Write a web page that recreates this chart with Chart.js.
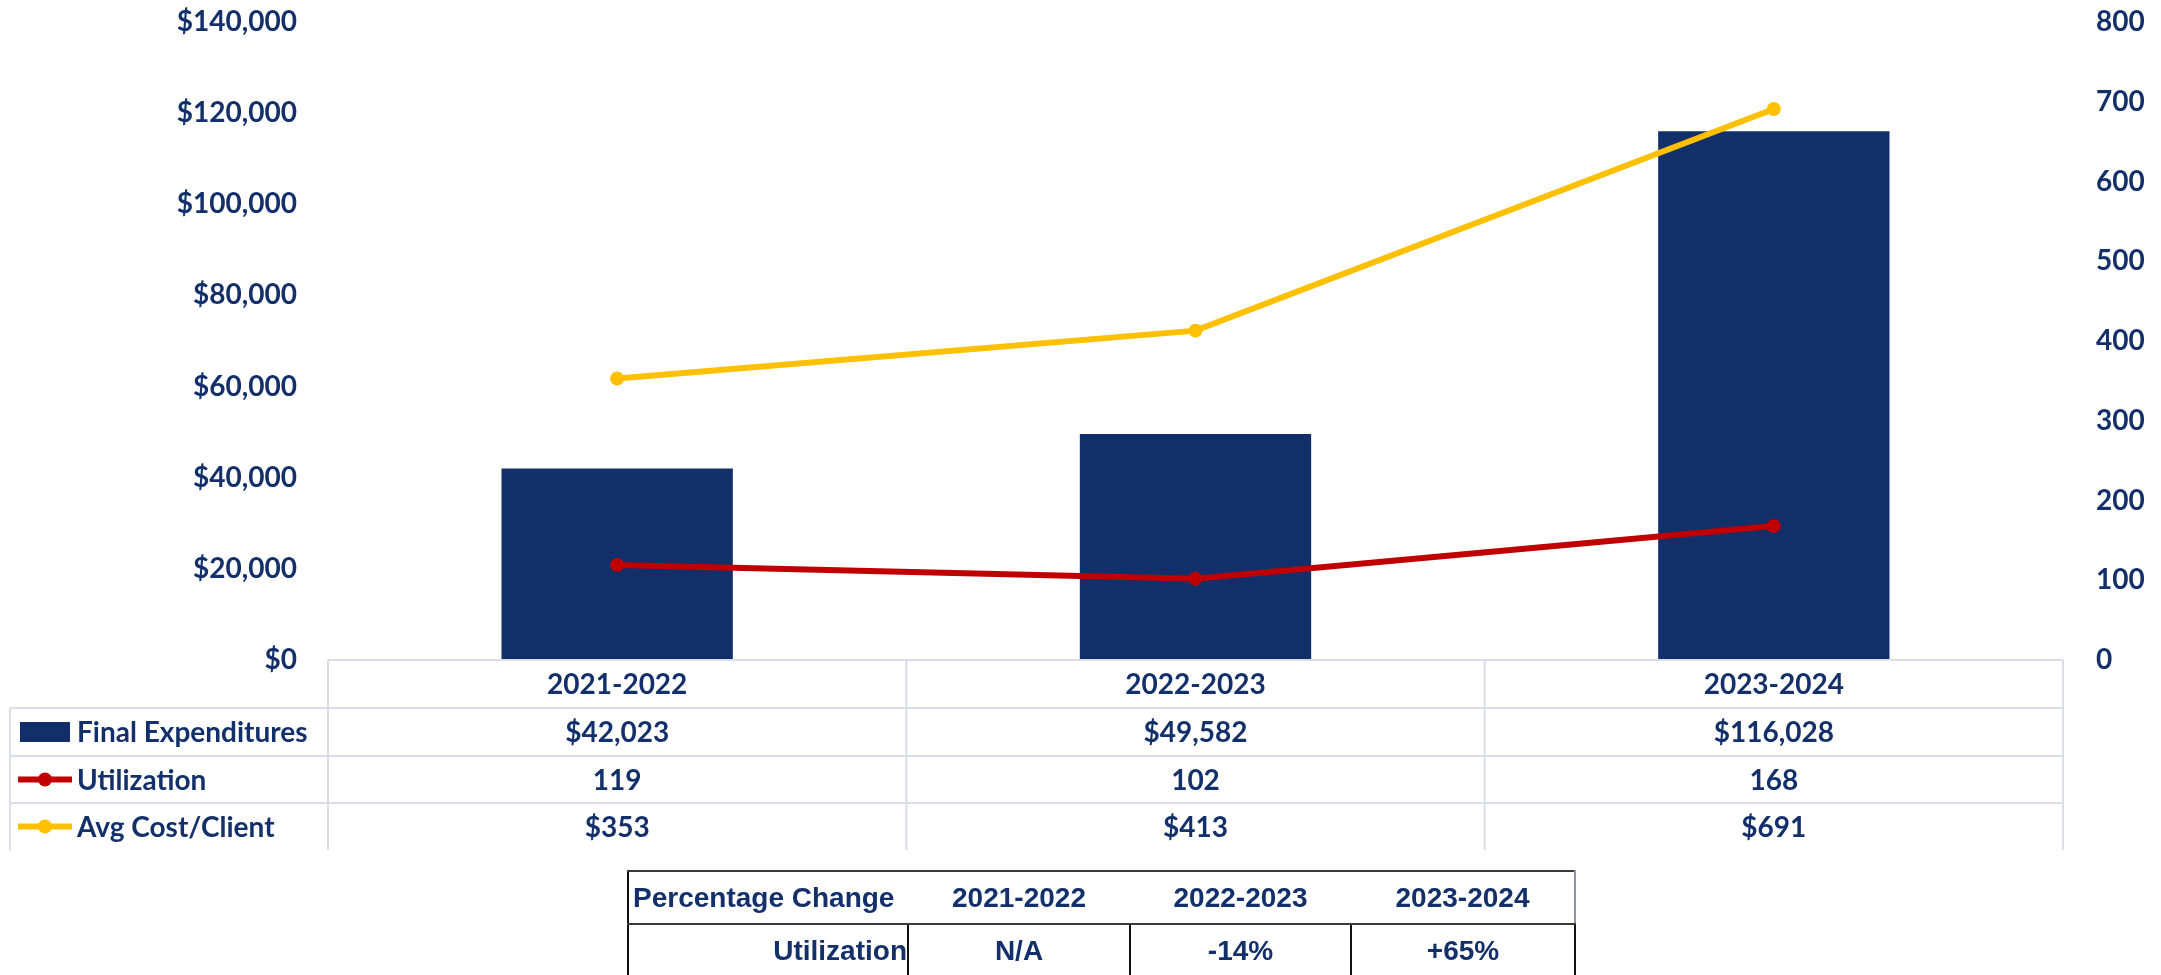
<!DOCTYPE html>
<html>
<head>
<meta charset="utf-8">
<script src="https://cdn.jsdelivr.net/npm/chart.js@4.4.1/dist/chart.umd.min.js"></script>
<style>
  html, body { margin: 0; padding: 0; background: #fff; overflow: hidden; }
  #wrap { position: relative; width: 2161px; height: 975px; }
  #pct { position: absolute; left: 627px; top: 870px; border-collapse: collapse;
         font-family: "Liberation Sans", Arial, sans-serif; font-weight: bold; font-size: 28px; color: #13306B; }
  #pct td, #pct th { padding: 0; height: 53px; box-sizing: border-box; font-weight: bold; text-align: center; }
  #pct tr.hdr th { border-top: 2px solid #3a3a3a; border-bottom: 2px solid #3a3a3a; }
  #pct tr.hdr th:first-child { text-align: left; padding-left: 4px; border-left: 2px solid #111; }
  #pct tr.hdr th:last-child { border-right: 2px solid #8a96a8; }
  #pct tr.row td { border-left: 2px solid #111; border-right: 2px solid #111; }
  #pct tr.row td:first-child { text-align: right; padding-right: 0; }
</style>
</head>
<body>
<div id="wrap">
  <canvas id="c"></canvas>
  <table id="pct"></table>
</div>
<script>
// ---- data ----
const categories = ['2021-2022', '2022-2023', '2023-2024'];
const finalExpenditures = [42023, 49582, 116028];
const utilization = [119, 102, 168];
const avgCostPerClient = [353, 413, 691];
const pctChangeHeader = 'Percentage Change';
const pctChangeRowLabel = 'Utilization';
const pctChangeUtilization = ['N/A', '-14%', '+65%'];
const leftTicks = { min: 0, max: 140000, step: 20000 };
const rightTicks = { min: 0, max: 800, step: 100 };

const NAVY = '#122F6A';
const TEXT = '#13306B';
const RED = '#C00000';
const YELLOW = '#FFC000';
const GRID = '#D9DEE8';
const FONT = 'Lato, "Open Sans", sans-serif';

function money(v) { return '$' + Number(v).toLocaleString('en-US'); }

// ---- percentage table ----
(function buildTable() {
  const t = document.getElementById('pct');
  const widths = [280, 222, 221, 224];
  let h = '<tr class="hdr"><th style="width:' + widths[0] + 'px">' + pctChangeHeader + '</th>';
  categories.forEach((c, i) => { h += '<th style="width:' + widths[i + 1] + 'px">' + c + '</th>'; });
  h += '</tr><tr class="row"><td>' + pctChangeRowLabel + '</td>';
  pctChangeUtilization.forEach(v => { h += '<td>' + v + '</td>'; });
  h += '</tr>';
  t.innerHTML = h;
})();

// ---- data table plugin ----
const dataTablePlugin = {
  id: 'dataTable',
  afterDraw(chart) {
    const ctx = chart.ctx;
    const ca = chart.chartArea;
    const xs = chart.scales.x;
    const left = ca.left, right = ca.right;
    const top = ca.bottom;
    const rows = [top, top + 48, top + 96, top + 143, top + 190];
    const legendLeft = 10;
    const catW = (right - left) / categories.length;

    ctx.save();
    ctx.strokeStyle = GRID;
    ctx.lineWidth = 2;
    ctx.beginPath();
    ctx.moveTo(left, rows[0]); ctx.lineTo(right, rows[0]);
    for (let r = 1; r <= 3; r++) { ctx.moveTo(legendLeft, rows[r]); ctx.lineTo(right, rows[r]); }
    ctx.moveTo(legendLeft, rows[1]); ctx.lineTo(legendLeft, rows[4]);
    for (let i = 0; i <= categories.length; i++) {
      const x = i < categories.length ? xs.getPixelForValue(i) - catW / 2 : xs.getPixelForValue(i - 1) + catW / 2;
      ctx.moveTo(x, rows[0]); ctx.lineTo(x, rows[4]);
    }
    ctx.stroke();

    ctx.font = 'bold 28px ' + FONT;
    ctx.fillStyle = TEXT;
    ctx.textBaseline = 'middle';

    const series = [
      { label: 'Final Expenditures', values: finalExpenditures.map(money), kind: 'bar', color: NAVY },
      { label: 'Utilization', values: utilization.map(String), kind: 'line', color: RED },
      { label: 'Avg Cost/Client', values: avgCostPerClient.map(money), kind: 'line', color: YELLOW }
    ];
    series.forEach((s, r) => {
      const cy = (rows[r + 1] + rows[r + 2]) / 2;
      if (s.kind === 'bar') {
        ctx.fillStyle = s.color;
        ctx.fillRect(20, cy - 10, 50, 20);
      } else {
        ctx.strokeStyle = s.color;
        ctx.lineWidth = 6;
        ctx.beginPath(); ctx.moveTo(18, cy); ctx.lineTo(72, cy); ctx.stroke();
        ctx.fillStyle = s.color;
        ctx.beginPath(); ctx.arc(45, cy, 7, 0, Math.PI * 2); ctx.fill();
      }
      ctx.fillStyle = TEXT;
      ctx.textAlign = 'left';
      ctx.fillText(s.label, 77, cy + 1);
      ctx.textAlign = 'center';
      s.values.forEach((v, i) => ctx.fillText(v, xs.getPixelForValue(i), cy + 1));
    });
    ctx.restore();
  }
};

Chart.defaults.font.family = FONT;

new Chart(document.getElementById('c'), {
  type: 'bar',
  data: {
    labels: categories,
    datasets: [
      {
        type: 'line', label: 'Avg Cost/Client', data: avgCostPerClient, yAxisID: 'y1',
        borderColor: YELLOW, backgroundColor: YELLOW, borderWidth: 6,
        pointRadius: 7, pointBackgroundColor: YELLOW, pointBorderWidth: 0, tension: 0, order: 1
      },
      {
        type: 'line', label: 'Utilization', data: utilization, yAxisID: 'y1',
        borderColor: RED, backgroundColor: RED, borderWidth: 6,
        pointRadius: 7, pointBackgroundColor: RED, pointBorderWidth: 0, tension: 0, order: 2
      },
      {
        type: 'bar', label: 'Final Expenditures', data: finalExpenditures, yAxisID: 'y',
        backgroundColor: NAVY, borderWidth: 0, barPercentage: 0.4, categoryPercentage: 1.0, order: 3
      }
    ]
  },
  options: {
    responsive: true,
    maintainAspectRatio: false,
    animation: false,
    layout: { padding: { top: 22, left: 0, right: 0, bottom: 0 } },
    plugins: { legend: { display: false }, tooltip: { enabled: false } },
    scales: {
      x: {
        grid: { display: false, drawTicks: false },
        border: { display: false },
        ticks: { color: TEXT, font: { size: 28, weight: 'bold' }, padding: 8, maxRotation: 0 },
        afterFit(s) { s.height = 315; s.paddingLeft = 0; s.paddingRight = 0; }
      },
      y: {
        position: 'left', min: leftTicks.min, max: leftTicks.max,
        grid: { display: false, drawTicks: false },
        border: { display: false },
        ticks: { stepSize: leftTicks.step, color: TEXT, font: { size: 28, weight: 'bold' }, padding: 31,
                 callback: v => money(v) },
        afterFit(s) { s.width = 328; s.paddingTop = 0; s.paddingBottom = 0; }
      },
      y1: {
        position: 'right', min: rightTicks.min, max: rightTicks.max,
        grid: { display: false, drawTicks: false },
        border: { display: false },
        ticks: { stepSize: rightTicks.step, color: TEXT, font: { size: 28, weight: 'bold' }, padding: 33 },
        afterFit(s) { s.width = 98; s.paddingTop = 0; s.paddingBottom = 0; }
      }
    }
  },
  plugins: [dataTablePlugin]
});
</script>
</body>
</html>
